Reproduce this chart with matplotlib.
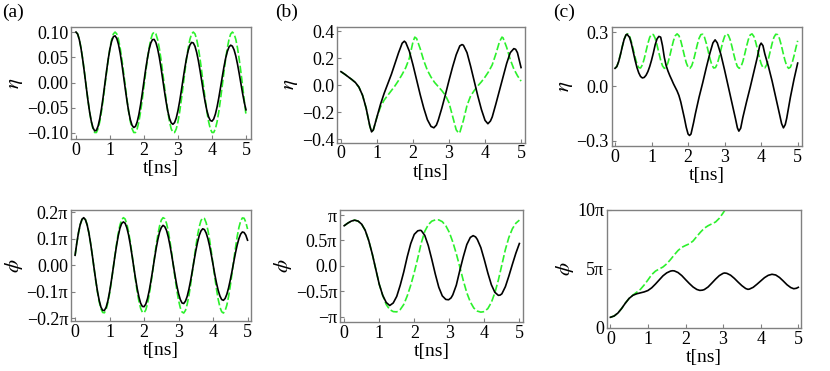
import matplotlib
matplotlib.use('Agg')
import matplotlib.pyplot as plt

plt.rcParams['font.family'] = ['Liberation Serif', 'DejaVu Serif']
plt.rcParams['mathtext.fontset'] = 'stix'

# ---- data ----
t_fine = [round(0.05 * i, 2) for i in range(101)]

# (a) eta
eta_a_green = [0.100, 0.0963, 0.0854, 0.0682, 0.0460, 0.0204, -0.0068, -0.0335, -0.0576, -0.0776,
               -0.0917, -0.0991, -0.0991, -0.0917, -0.0776, -0.0577, -0.0335, -0.0069, 0.0203, 0.0459,
               0.0682, 0.0854, 0.0963, 0.1000, 0.0963, 0.0855, 0.0683, 0.0461, 0.0204, -0.0067,
               -0.0334, -0.0576, -0.0775, -0.0917, -0.0991, -0.0991, -0.0918, -0.0777, -0.0578, -0.0336,
               -0.0070, 0.0202, 0.0459, 0.0681, 0.0854, 0.0962, 0.1000, 0.0963, 0.0855, 0.0684,
               0.0462, 0.0205, -0.0066, -0.0333, -0.0575, -0.0774, -0.0916, -0.0990, -0.0991, -0.0918,
               -0.0777, -0.0579, -0.0337, -0.0071, 0.0201, 0.0458, 0.0681, 0.0853, 0.0962, 0.1000,
               0.0964, 0.0856, 0.0685, 0.0462, 0.0206, -0.0065, -0.0332, -0.0575, -0.0774, -0.0916,
               -0.0990, -0.0991, -0.0918, -0.0778, -0.0579, -0.0338, -0.0071, 0.0200, 0.0457, 0.0680,
               0.0853, 0.0962, 0.1000, 0.0964, 0.0856, 0.0685, 0.0463, 0.0207, -0.0065, -0.0360,
               -0.0640]
eta_a_black = [0.100, 0.0959, 0.0846, 0.0670, 0.0445, 0.0189, -0.0080, -0.0343, -0.0577, -0.0766,
               -0.0896, -0.0958, -0.0948, -0.0866, -0.0719, -0.0521, -0.0284, -0.0026, 0.0231, 0.0470,
               0.0671, 0.0821, 0.0908, 0.0925, 0.0874, 0.0757, 0.0584, 0.0367, 0.0125, -0.0125,
               -0.0364, -0.0574, -0.0740, -0.0849, -0.0892, -0.0870, -0.0781, -0.0635, -0.0441, -0.0215,
               0.0025, 0.0261, 0.0476, 0.0654, 0.0782, 0.0850, 0.0854, 0.0793, 0.0673, 0.0504,
               0.0297, 0.0069, -0.0162, -0.0379, -0.0567, -0.0711, -0.0799, -0.0828, -0.0795, -0.0701,
               -0.0555, -0.0369, -0.0157, 0.0067, 0.0284, 0.0479, 0.0634, 0.0743, 0.0794, 0.0785,
               0.0718, 0.0596, 0.0431, 0.0234, 0.0022, -0.0192, -0.0389, -0.0556, -0.0680, -0.0752,
               -0.0767, -0.0724, -0.0627, -0.0483, -0.0305, -0.0103, 0.0103, 0.0302, 0.0476, 0.0612,
               0.0703, 0.0740, 0.0720, 0.0647, 0.0526, 0.0365, 0.0179, -0.0020, -0.0216, -0.0395,
               -0.0541]

# (a) phi, in units of pi
phi_a_green = [0.038, 0.084, 0.123, 0.154, 0.173, 0.180, 0.173, 0.154, 0.123, 0.083,
               0.038, -0.011, -0.059, -0.102, -0.138, -0.164, -0.178, -0.179, -0.166, -0.141,
               -0.106, -0.063, -0.016, 0.033, 0.079, 0.120, 0.152, 0.172, 0.180, 0.175,
               0.156, 0.127, 0.088, 0.042, -0.006, -0.054, -0.099, -0.135, -0.162, -0.177,
               -0.179, -0.168, -0.144, -0.110, -0.068, -0.021, 0.028, 0.075, 0.116, 0.149,
               0.171, 0.180, 0.176, 0.159, 0.130, 0.092, 0.047, -0.002, -0.050, -0.094,
               -0.132, -0.160, -0.176, -0.180, -0.170, -0.147, -0.114, -0.072, -0.025, 0.024,
               0.070, 0.113, 0.146, 0.169, 0.179, 0.177, 0.161, 0.133, 0.096, 0.052,
               0.003, -0.045, -0.090, -0.129, -0.158, -0.175, -0.180, -0.171, -0.150, -0.118,
               -0.077, -0.030, 0.019, 0.066, 0.109, 0.143, 0.167, 0.179, 0.178, 0.163,
               0.137]
phi_a_black = [0.038, 0.085, 0.125, 0.155, 0.174, 0.180, 0.172, 0.152, 0.122, 0.082,
               0.037, -0.011, -0.057, -0.099, -0.133, -0.158, -0.170, -0.170, -0.158, -0.134,
               -0.100, -0.059, -0.015, 0.031, 0.073, 0.111, 0.140, 0.158, 0.164, 0.159,
               0.142, 0.115, 0.079, 0.038, -0.006, -0.048, -0.087, -0.119, -0.143, -0.155,
               -0.156, -0.146, -0.125, -0.095, -0.058, -0.018, 0.024, 0.064, 0.098, 0.126,
               0.143, 0.151, 0.146, 0.132, 0.108, 0.076, 0.039, -0.001, -0.040, -0.077,
               -0.107, -0.129, -0.142, -0.144, -0.135, -0.117, -0.090, -0.057, -0.020, 0.018,
               0.055, 0.087, 0.113, 0.130, 0.138, 0.135, 0.122, 0.101, 0.073, 0.039,
               0.003, -0.034, -0.067, -0.095, -0.116, -0.129, -0.132, -0.125, -0.109, -0.085,
               -0.055, -0.022, 0.013, 0.047, 0.077, 0.101, 0.118, 0.126, 0.124, 0.114,
               0.095]

# (b) eta
t_eta_b_black = [0.0, 0.1, 0.2, 0.3, 0.4, 0.5, 0.6, 0.7, 0.8, 0.85, 0.9, 1.0, 1.1, 1.2, 1.3, 1.4,
                 1.5, 1.6, 1.7, 1.76, 1.8, 1.9, 2.0, 2.1, 2.2, 2.3, 2.4, 2.5, 2.58, 2.65, 2.7,
                 2.8, 2.9, 3.0, 3.1, 3.2, 3.3, 3.36, 3.4, 3.5, 3.6, 3.7, 3.8, 3.9, 4.0, 4.08,
                 4.15, 4.2, 4.3, 4.4, 4.5, 4.6, 4.7, 4.8, 4.85, 4.9, 5.0]
eta_b_black = [0.100, 0.082, 0.062, 0.042, 0.020, -0.015, -0.075, -0.170, -0.300, -0.345, -0.330,
               -0.235, -0.140, -0.060, 0.010, 0.080, 0.160, 0.240, 0.310, 0.325, 0.315, 0.250,
               0.150, 0.040, -0.070, -0.170, -0.255, -0.305, -0.315, -0.295, -0.260, -0.170,
               -0.070, 0.035, 0.135, 0.225, 0.290, 0.300, 0.295, 0.240, 0.140, 0.030, -0.080,
               -0.180, -0.260, -0.285, -0.265, -0.235, -0.140, -0.040, 0.060, 0.160, 0.240,
               0.270, 0.265, 0.240, 0.130]
t_eta_b_green = [0.0, 0.1, 0.2, 0.3, 0.4, 0.5, 0.6, 0.7, 0.8, 0.85, 0.9, 1.0, 1.1, 1.2, 1.3, 1.4,
                 1.5, 1.6, 1.7, 1.8, 1.9, 2.0, 2.05, 2.1, 2.2, 2.3, 2.4, 2.5, 2.6, 2.7, 2.8, 2.9,
                 3.0, 3.1, 3.2, 3.27, 3.3, 3.4, 3.5, 3.6, 3.7, 3.8, 3.9, 4.0, 4.1, 4.2, 4.3, 4.4,
                 4.47, 4.5, 4.6, 4.7, 4.8, 4.9, 5.0]
eta_b_green = [0.100, 0.082, 0.062, 0.042, 0.020, -0.015, -0.075, -0.170, -0.300, -0.345, -0.330,
               -0.235, -0.160, -0.110, -0.075, -0.040, -0.005, 0.035, 0.080, 0.130, 0.200, 0.320,
               0.355, 0.345, 0.270, 0.180, 0.110, 0.060, 0.020, -0.010, -0.040, -0.075, -0.130,
               -0.230, -0.330, -0.355, -0.350, -0.260, -0.150, -0.080, -0.040, -0.005, 0.025,
               0.060, 0.100, 0.150, 0.230, 0.320, 0.355, 0.350, 0.280, 0.190, 0.120, 0.070, 0.030]

# (b) phi, in units of pi
t_phi_b_black = [0.0, 0.1, 0.2, 0.3, 0.4, 0.5, 0.6, 0.7, 0.8, 0.9, 1.0, 1.1, 1.2, 1.3, 1.4, 1.5,
                 1.6, 1.7, 1.8, 1.9, 2.0, 2.1, 2.17, 2.2, 2.3, 2.4, 2.5, 2.6, 2.7, 2.8, 2.9, 2.98,
                 3.05, 3.1, 3.2, 3.3, 3.4, 3.5, 3.6, 3.68, 3.75, 3.8, 3.9, 4.0, 4.1, 4.2, 4.3,
                 4.4, 4.45, 4.5, 4.6, 4.7, 4.8, 4.9, 5.0]
phi_b_black = [0.79, 0.84, 0.88, 0.90, 0.88, 0.82, 0.70, 0.50, 0.24, -0.06, -0.36, -0.58, -0.72,
               -0.78, -0.73, -0.60, -0.38, -0.12, 0.18, 0.44, 0.62, 0.69, 0.70, 0.695, 0.60, 0.40,
               0.13, -0.16, -0.42, -0.59, -0.66, -0.667, -0.63, -0.57, -0.38, -0.09, 0.18, 0.42,
               0.56, 0.595, 0.57, 0.52, 0.36, 0.12, -0.14, -0.37, -0.52, -0.58, -0.575, -0.55,
               -0.41, -0.20, 0.03, 0.25, 0.44]
t_phi_b_green = [0.0, 0.1, 0.2, 0.3, 0.4, 0.5, 0.6, 0.7, 0.8, 0.9, 1.0, 1.1, 1.2, 1.3, 1.4, 1.5,
                 1.6, 1.7, 1.8, 1.9, 2.0, 2.1, 2.2, 2.3, 2.4, 2.5, 2.6, 2.7, 2.8, 2.9, 3.0, 3.1,
                 3.2, 3.3, 3.4, 3.5, 3.6, 3.7, 3.8, 3.9, 4.0, 4.1, 4.2, 4.3, 4.4, 4.5, 4.6, 4.7,
                 4.8, 4.9, 5.0]
phi_b_green = [0.79, 0.84, 0.88, 0.90, 0.88, 0.82, 0.70, 0.50, 0.24, -0.06, -0.36, -0.58, -0.76,
               -0.86, -0.90, -0.905, -0.86, -0.76, -0.59, -0.38, -0.13, 0.15, 0.45, 0.68, 0.81,
               0.88, 0.905, 0.905, 0.87, 0.79, 0.66, 0.47, 0.24, -0.02, -0.29, -0.53, -0.71,
               -0.83, -0.89, -0.91, -0.90, -0.84, -0.72, -0.53, -0.28, 0.02, 0.32, 0.56, 0.73,
               0.84, 0.90]

# (c) eta
eta_c_green = [0.100, 0.110, 0.138, 0.178, 0.221, 0.259, 0.284, 0.290, 0.276, 0.245, 0.204,
               0.161, 0.125, 0.104, 0.102, 0.119, 0.153, 0.195, 0.237, 0.271, 0.288, 0.286,
               0.265, 0.229, 0.186, 0.145, 0.114, 0.100, 0.106, 0.131, 0.169, 0.212, 0.252,
               0.280, 0.290, 0.280, 0.252, 0.212, 0.169, 0.131, 0.106, 0.100, 0.114, 0.145,
               0.186, 0.229, 0.265, 0.286, 0.288, 0.271, 0.237, 0.195, 0.153, 0.119, 0.102,
               0.104, 0.125, 0.161, 0.204, 0.245, 0.276, 0.290, 0.284, 0.259, 0.221, 0.178,
               0.138, 0.110, 0.100, 0.110, 0.138, 0.178, 0.221, 0.259, 0.284, 0.290, 0.276,
               0.245, 0.204, 0.161, 0.125, 0.104, 0.102, 0.119, 0.153, 0.195, 0.237, 0.271,
               0.288, 0.286, 0.265, 0.229, 0.186, 0.145, 0.114, 0.100, 0.106, 0.131, 0.169,
               0.212, 0.252]
t_eta_c_black = [0.0, 0.05, 0.1, 0.15, 0.2, 0.25, 0.3, 0.33, 0.4, 0.45, 0.5, 0.55, 0.6, 0.65, 0.7,
                 0.75, 0.8, 0.85, 0.9, 0.95, 1.0, 1.05, 1.1, 1.15, 1.2, 1.25, 1.3, 1.35, 1.4,
                 1.45, 1.5, 1.55, 1.6, 1.65, 1.7, 1.75, 1.8, 1.85, 1.9, 1.95, 2.0, 2.04, 2.08,
                 2.15, 2.2, 2.3, 2.4, 2.5, 2.6, 2.68, 2.74, 2.8, 2.9, 3.0, 3.1, 3.2, 3.3, 3.35,
                 3.39, 3.44, 3.5, 3.6, 3.7, 3.8, 3.9, 3.96, 4.0, 4.05, 4.1, 4.2, 4.3, 4.4, 4.5,
                 4.56, 4.61, 4.66, 4.7, 4.8, 4.9, 5.0]
eta_c_black = [0.100, 0.110, 0.137, 0.176, 0.220, 0.260, 0.284, 0.288, 0.270, 0.235, 0.190,
               0.145, 0.105, 0.075, 0.055, 0.047, 0.050, 0.062, 0.082, 0.110, 0.145, 0.185,
               0.230, 0.262, 0.276, 0.272, 0.225, 0.160, 0.115, 0.085, 0.060, 0.038, 0.015,
               -0.005, -0.025, -0.050, -0.085, -0.130, -0.175, -0.225, -0.262, -0.270, -0.262,
               -0.200, -0.150, -0.060, 0.020, 0.105, 0.185, 0.240, 0.257, 0.240, 0.175, 0.090,
               0.000, -0.090, -0.180, -0.228, -0.246, -0.230, -0.170, -0.085, -0.005, 0.080,
               0.165, 0.225, 0.239, 0.225, 0.180, 0.110, 0.030, -0.060, -0.150, -0.205, -0.228,
               -0.210, -0.175, -0.060, 0.040, 0.129]

# (c) phi, in units of pi
t_phi_c_black = [0.0, 0.1, 0.2, 0.3, 0.4, 0.5, 0.6, 0.7, 0.8, 0.9, 1.0, 1.1, 1.2, 1.3, 1.4, 1.5,
                 1.6, 1.65, 1.7, 1.8, 1.9, 2.0, 2.1, 2.2, 2.3, 2.38, 2.45, 2.5, 2.6, 2.7, 2.8,
                 2.9, 3.0, 3.04, 3.1, 3.2, 3.3, 3.4, 3.5, 3.6, 3.66, 3.7, 3.8, 3.9, 4.0, 4.1,
                 4.2, 4.3, 4.4, 4.5, 4.6, 4.7, 4.8, 4.88, 4.95, 5.0]
phi_c_black = [0.87, 0.98, 1.23, 1.62, 2.08, 2.48, 2.74, 2.87, 2.95, 3.03, 3.15, 3.38, 3.70, 4.05,
               4.40, 4.65, 4.80, 4.83, 4.82, 4.68, 4.42, 4.08, 3.75, 3.45, 3.24, 3.16, 3.18, 3.23,
               3.45, 3.78, 4.12, 4.42, 4.61, 4.64, 4.61, 4.45, 4.18, 3.86, 3.56, 3.32, 3.25, 3.27,
               3.42, 3.68, 3.96, 4.24, 4.44, 4.53, 4.47, 4.26, 3.96, 3.64, 3.40, 3.30, 3.34, 3.42]
t_phi_c_green = [0.0, 0.1, 0.2, 0.3, 0.4, 0.5, 0.6, 0.7, 0.8, 0.9, 1.0, 1.1, 1.2, 1.3, 1.4, 1.5,
                 1.6, 1.7, 1.8, 1.9, 2.0, 2.1, 2.2, 2.3, 2.4, 2.5, 2.6, 2.7, 2.8, 2.9, 3.0, 3.05,
                 3.1]
phi_c_green = [0.87, 0.98, 1.23, 1.62, 2.08, 2.48, 2.76, 3.00, 3.25, 3.62, 4.05, 4.50, 4.80, 4.98,
               5.15, 5.42, 5.78, 6.18, 6.55, 6.82, 6.98, 7.12, 7.36, 7.75, 8.12, 8.45, 8.66, 8.82,
               8.98, 9.30, 9.75, 10.0, 10.25]

# ---- drawing ----
green = '#2cf02c'
gray = '#808080'

fig = plt.figure(figsize=(8.3, 3.71), dpi=100)


def make_axes(rect, xlim, ylim, yticks, yticklabels, ylabel):
    ax = fig.add_axes(rect)
    ax.set_xlim(*xlim)
    ax.set_ylim(*ylim)
    ax.set_xticks([0, 1, 2, 3, 4, 5])
    ax.set_yticks(yticks)
    ax.set_yticklabels(yticklabels)
    for s in ax.spines.values():
        s.set_color(gray)
        s.set_linewidth(1.0)
    ax.tick_params(direction='in', length=3, width=0.8, color=gray, labelsize=13, pad=2)
    ax.set_xlabel('t[ns]', fontsize=14, labelpad=1)
    ax.set_ylabel(ylabel, fontsize=15, labelpad=1)
    return ax


def draw(ax, tg, yg, tb, yb):
    ax.plot(tg, yg, color=green, lw=1.2, dashes=(4.5, 1.6), zorder=2)
    ax.plot(tb, yb, color='black', lw=1.2, zorder=3)


ax1 = make_axes([0.0855, 0.6253, 0.2169, 0.3019], (-0.147, 5.147), (-0.112, 0.11),
                [-0.1, -0.05, 0, 0.05, 0.1], ['\u22120.10', '\u22120.05', '0.00', '0.05', '0.10'],
                r'$\eta$')
draw(ax1, t_fine, eta_a_green, t_fine, eta_a_black)

ax2 = make_axes([0.406, 0.6154, 0.2261, 0.3119], (-0.11, 5.1), (-0.425, 0.43),
                [-0.4, -0.2, 0, 0.2, 0.4], ['\u22120.4', '\u22120.2', '0.0', '0.2', '0.4'],
                r'$\eta$')
draw(ax2, t_eta_b_green, eta_b_green, t_eta_b_black, eta_b_black)

ax3 = make_axes([0.737, 0.6065, 0.2289, 0.3208], (-0.09, 5.11), (-0.328, 0.328),
                [-0.3, 0, 0.3], ['\u22120.3', '0.0', '0.3'], r'$\eta$')
draw(ax3, t_fine, eta_c_green, t_eta_c_black, eta_c_black)

ax4 = make_axes([0.0855, 0.1348, 0.2169, 0.2992], (-0.12, 5.1), (-0.21, 0.209),
                [-0.2, -0.1, 0, 0.1, 0.2], ['\u22120.2\u03c0', '\u22120.1\u03c0', '0.00', '0.1\u03c0', '0.2\u03c0'],
                r'$\phi$')
draw(ax4, t_fine, phi_a_green, t_fine, phi_a_black)

ax5 = make_axes([0.4096, 0.1313, 0.2208, 0.3027], (-0.12, 5.11), (-1.11, 1.10),
                [-1, -0.5, 0, 0.5, 1], ['\u2212\u03c0', '\u22120.5\u03c0', '0.0', '0.5\u03c0', '\u03c0'],
                r'$\phi$')
draw(ax5, t_phi_b_green, phi_b_green, t_phi_b_black, phi_b_black)

ax6 = make_axes([0.7313, 0.1159, 0.2341, 0.3181], (-0.09, 5.08), (-0.04, 10.0),
                [0, 5, 10], ['0', '5\u03c0', '10\u03c0'], r'$\phi$')
draw(ax6, t_phi_c_green, phi_c_green, t_phi_c_black, phi_c_black)

fig.text(0.003, 0.99, '(a)', fontsize=14, va='top', ha='left')
fig.text(0.331, 0.99, '(b)', fontsize=14, va='top', ha='left')
fig.text(0.666, 0.99, '(c)', fontsize=14, va='top', ha='left')

fig.savefig('out.png', dpi=100)
